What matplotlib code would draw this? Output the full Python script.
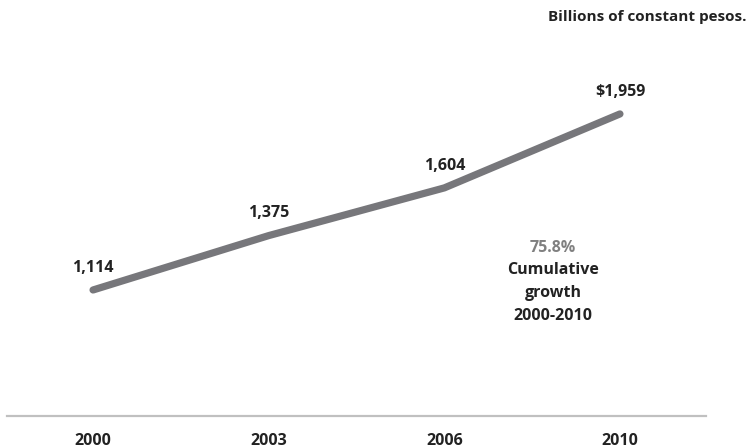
import matplotlib.pyplot as plt

years = ['2000', '2003', '2006', '2010']
values = [1114, 1375, 1604, 1959]
value_labels = ['1,114', '1,375', '1,604', '$1,959']
growth_pct = '75.8%'
growth_text = 'Cumulative\ngrowth\n2000-2010'
unit_text = 'Billions of constant pesos.'

plt.rcParams['font.family'] = ['Open Sans', 'DejaVu Sans']

fig = plt.figure(figsize=(7.49, 4.48), dpi=100)
ax = fig.add_axes([7 / 749, 32 / 448, 699 / 749, 416 / 448])

x = list(range(len(years)))
ax.plot(x, values, color='#77777b', lw=5.2, solid_capstyle='round',
        solid_joinstyle='round')

for xi, v, lab in zip(x, values, value_labels):
    ax.annotate(lab, (xi, v), xytext=(0, 16), textcoords='offset points',
                ha='center', va='center', fontsize=11.5, fontweight='bold',
                color='#222222')

ax.set_xlim(-0.49, 3.49)
ax.set_ylim(509, 2506)

for s in ['top', 'left', 'right']:
    ax.spines[s].set_visible(False)
ax.spines['bottom'].set_color('#c0c0c0')
ax.spines['bottom'].set_linewidth(1.6)

ax.set_yticks([])
ax.set_xticks(x)
ax.set_xticklabels(years, fontsize=11.5, fontweight='bold', color='#222222')
ax.tick_params(axis='x', length=0, pad=12.5)

fig.text(553 / 749, 1 - 248 / 448, growth_pct, ha='center', va='center',
         fontsize=11.5, fontweight='bold', color='#808080')
fig.text(553 / 749, 1 - 293 / 448, growth_text, ha='center', va='center',
         fontsize=11.5, fontweight='bold', color='#222222', linespacing=1.55)

fig.text(746 / 749, 1 - 17 / 448, unit_text, ha='right', va='center',
         fontsize=11, fontweight='bold', color='#222222')

fig.savefig('out.png', dpi=100)
